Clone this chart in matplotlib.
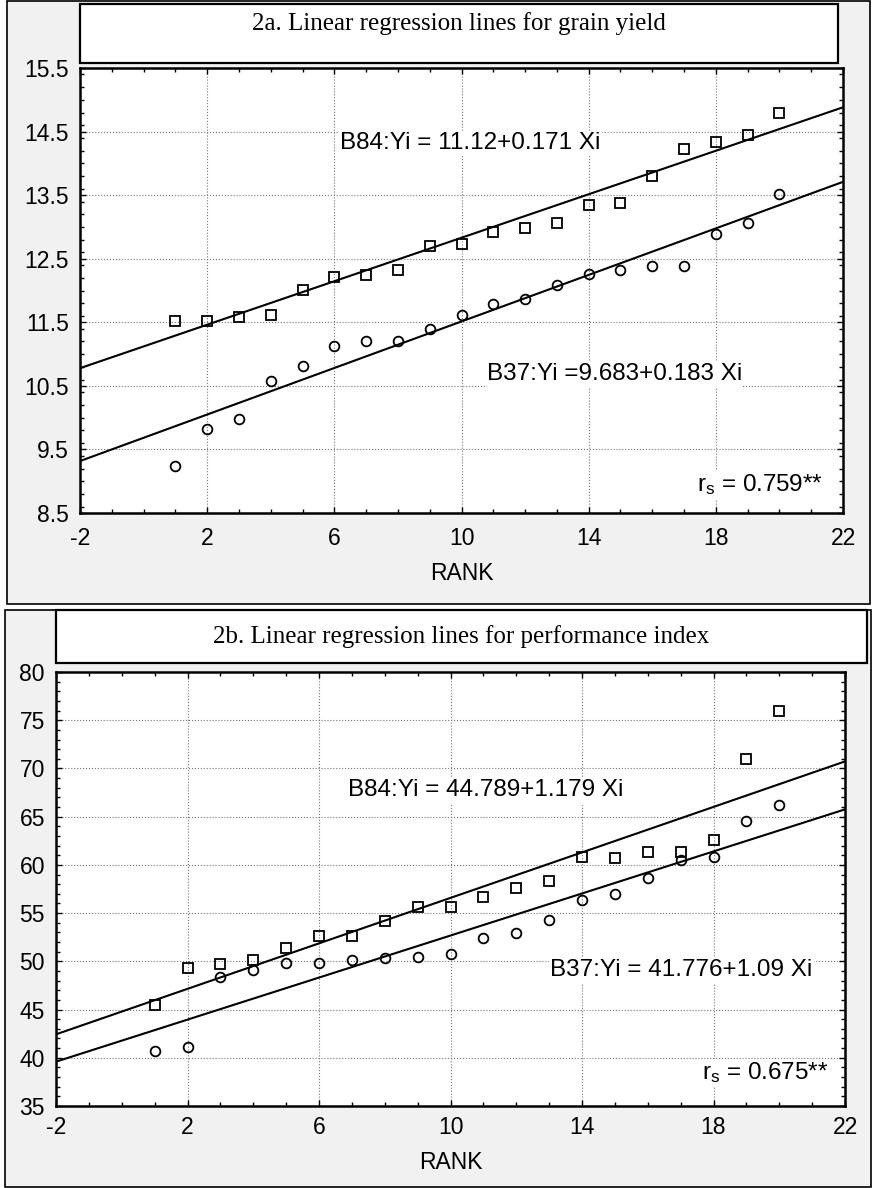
import numpy as np
import matplotlib
matplotlib.use("Agg")
import matplotlib.pyplot as plt
from matplotlib.patches import Rectangle
from matplotlib.ticker import MultipleLocator

plt.rcParams['font.family'] = ['Liberation Sans', 'DejaVu Sans']
plt.rcParams['mathtext.fontset'] = 'custom'
plt.rcParams['mathtext.rm'] = 'Liberation Sans'
plt.rcParams['mathtext.it'] = 'Liberation Sans'
plt.rcParams['axes.unicode_minus'] = False

# ---- data ----
rank = np.arange(1, 21)

# 2a grain yield
yield_b84 = [11.52, 11.52, 11.58, 11.61, 12.01, 12.22, 12.25, 12.33, 12.70, 12.73,
             12.92, 12.99, 13.06, 13.35, 13.38, 13.80, 14.23, 14.33, 14.44, 14.79]
yield_b37 = [9.24, 9.82, 9.98, 10.58, 10.81, 11.12, 11.20, 11.21, 11.40, 11.61,
             11.79, 11.87, 12.08, 12.26, 12.32, 12.38, 12.38, 12.89, 13.06, 13.52]
yield_fit_b84 = (11.12, 0.171)
yield_fit_b37 = (9.683, 0.183)

# 2b performance index
perf_b84 = [45.48, 49.29, 49.70, 50.15, 51.41, 52.61, 52.61, 54.23, 55.63, 55.63,
            56.66, 57.58, 58.34, 60.77, 60.67, 61.29, 61.29, 62.56, 71.02, 75.99]
perf_b37 = [40.66, 41.08, 48.40, 49.12, 49.82, 49.87, 50.15, 50.32, 50.49, 50.73,
            52.44, 52.89, 54.26, 56.38, 57.00, 58.61, 60.50, 60.77, 64.51, 66.22]
perf_fit_b84 = (44.789, 1.179)
perf_fit_b37 = (41.776, 1.09)

x_ticks = [-2, 2, 6, 10, 14, 18, 22]
yield_ticks = [8.5, 9.5, 10.5, 11.5, 12.5, 13.5, 14.5, 15.5]
perf_ticks = [35, 40, 45, 50, 55, 60, 65, 70, 75, 80]

W, H = 872, 1188
fig = plt.figure(figsize=(W / 100, H / 100), dpi=100)


def fbox(x0, y0, x1, y1, **kw):
    # rectangle in pixel coords (y from top)
    r = Rectangle((x0 / W, 1 - y1 / H), (x1 - x0) / W, (y1 - y0) / H,
                  transform=fig.transFigure, **kw)
    fig.patches.append(r)


# outer frames with light stipple-like background
fbox(7, 1, 870, 604, facecolor='#f1f1f1', edgecolor='black', lw=1.2, zorder=-2)
fbox(5, 610, 871, 1187, facecolor='#f1f1f1', edgecolor='black', lw=1.2, zorder=-2)
# title boxes
fbox(80, 4, 838, 63, facecolor='white', edgecolor='black', lw=1.6, zorder=-1)
fbox(56, 610, 867, 663, facecolor='white', edgecolor='black', lw=1.6, zorder=-1)

fig.text(459 / W, 1 - 24 / H, '2a. Linear regression lines for grain yield',
         family='Liberation Serif', fontsize=18, ha='center', va='center')
fig.text(461 / W, 1 - 637 / H, '2b. Linear regression lines for performance index',
         family='Liberation Serif', fontsize=18, ha='center', va='center')


def setup(ax, yticks, yminor, lab_pad):
    ax.set_zorder(2)
    ax.set_facecolor('white')
    ax.set_xlim(-2, 22)
    ax.set_ylim(yticks[0], yticks[-1])
    ax.set_xticks(x_ticks)
    ax.set_yticks(yticks)
    ax.set_yticklabels([('%g' % t) for t in yticks])
    ax.xaxis.set_minor_locator(MultipleLocator(1))
    ax.yaxis.set_minor_locator(MultipleLocator(yminor))
    ax.tick_params(which='both', direction='in', top=True, right=True,
                   labelsize=16.5, width=1.0)
    ax.tick_params(which='major', length=4)
    ax.tick_params(which='minor', length=3)
    ax.tick_params(axis='y', pad=8)
    ax.tick_params(axis='x', pad=lab_pad)
    ax.grid(True, which='major', linestyle=':', color='#777777', lw=0.8)
    for s in ax.spines.values():
        s.set_linewidth(1.8)
    ax.set_xlabel('RANK', fontsize=16.5, labelpad=9)


def draw(ax, b84, b37, fit84, fit37):
    xs = np.array([-2, 22])
    ax.plot(xs, fit84[0] + fit84[1] * xs, color='black', lw=1.5, zorder=3)
    ax.plot(xs, fit37[0] + fit37[1] * xs, color='black', lw=1.5, zorder=3)
    ax.plot(rank, b84, 's', ms=7.5, mfc='none', mec='black', mew=1.3, zorder=4,
            clip_on=False)
    ax.plot(rank, b37, 'o', ms=7, mfc='none', mec='black', mew=1.3, zorder=4,
            clip_on=False)


tb = dict(facecolor='white', edgecolor='none', pad=1)

ax1 = fig.add_axes([80 / W, 1 - 513 / H, 763 / W, 445 / H])
setup(ax1, yield_ticks, 0.2, 10)
draw(ax1, yield_b84, yield_b37, yield_fit_b84, yield_fit_b37)
ax1.text(6.18, 14.32, 'B84:Yi = 11.12+0.171 Xi', fontsize=17.5, va='center', bbox=tb, zorder=5)
ax1.text(10.79, 10.68, 'B37:Yi =9.683+0.183 Xi', fontsize=17.5, va='center', bbox=tb, zorder=5)
ax1.text(21.37, 8.84, r'r$_{\rm s}$ = 0.759**', fontsize=17.5, ha='right', va='baseline',
         bbox=tb, zorder=5)

ax2 = fig.add_axes([56 / W, 1 - 1106 / H, 789 / W, 434 / H])
setup(ax2, perf_ticks, 1, 7)
draw(ax2, perf_b84, perf_b37, perf_fit_b84, perf_fit_b37)
ax2.text(6.88, 67.74, 'B84:Yi = 44.789+1.179 Xi', fontsize=17.5, va='center', bbox=tb, zorder=5)
ax2.text(13.03, 49.09, 'B37:Yi = 41.776+1.09 Xi', fontsize=17.5, va='center', bbox=tb, zorder=5)
ax2.text(21.48, 37.8, r'r$_{\rm s}$ = 0.675**', fontsize=17.5, ha='right', va='baseline',
         bbox=tb, zorder=5)

fig.savefig('out.png', dpi=100)
